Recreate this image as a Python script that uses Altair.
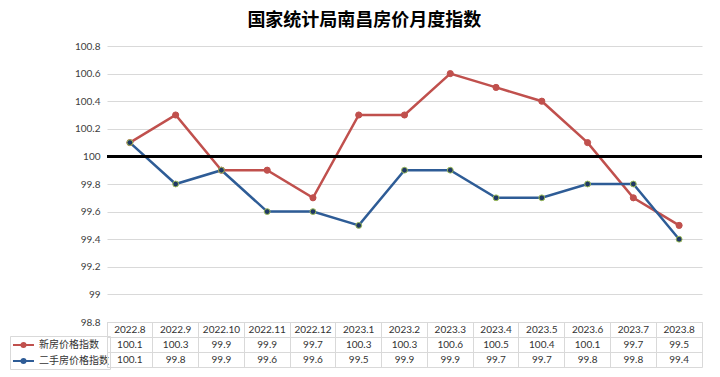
import altair as alt
import pandas as pd

# ---------------- data ----------------
months = ["2022.8", "2022.9", "2022.10", "2022.11", "2022.12", "2023.1", "2023.2",
          "2023.3", "2023.4", "2023.5", "2023.6", "2023.7", "2023.8"]
new_home = [100.1, 100.3, 99.9, 99.9, 99.7, 100.3, 100.3, 100.6, 100.5, 100.4, 100.1, 99.7, 99.5]
second_hand = [100.1, 99.8, 99.9, 99.6, 99.6, 99.5, 99.9, 99.9, 99.7, 99.7, 99.8, 99.8, 99.4]
series_names = ["新房价格指数", "二手房价格指数"]
y_ticks = [98.8, 99.0, 99.2, 99.4, 99.6, 99.8, 100.0, 100.2, 100.4, 100.6, 100.8]
baseline = 100
title_text = "国家统计局南昌房价月度指数"

RED = "#c0504d"
BLUE = "#2e5c96"
NAVY = "#1f3864"
GREEN = "#9bbb59"
GRID = "#d9d9d9"
CJK = "Noto Sans CJK SC"
NUM = "Lato"

rows = []
for s, vals in zip(series_names, [new_home, second_hand]):
    for i, (m, v) in enumerate(zip(months, vals)):
        rows.append({"month": m, "series": s, "value": v, "idx": i})
df = pd.DataFrame(rows)

row_keys = ["header", series_names[0], series_names[1]]
trows = []
for m in months:
    trows.append({"month": m, "row": "header", "text": m})
for s, vals in zip(series_names, [new_home, second_hand]):
    for m, v in zip(months, vals):
        trows.append({"month": m, "row": s, "text": f"{v:g}"})
tdf = pd.DataFrame(trows)

# ---------------- top chart ----------------
x_pt = alt.X("month:N", sort=months,
             scale=alt.Scale(type="point", domain=months, padding=0.5), axis=None)
y_scale = alt.Scale(domain=[y_ticks[0], y_ticks[-1]], nice=False, zero=False)
y_axis = alt.Axis(values=y_ticks, labelExpr="format(datum.value, '~g')",
                  grid=True, gridColor=GRID, domain=False, ticks=False,
                  labelPadding=7, title=None, labelFont=NUM, labelFontSize=10,
                  labelColor="#404040")
y_val = alt.Y("value:Q", scale=y_scale, axis=y_axis)

base = alt.Chart(df)

rule = alt.Chart(df).mark_rule(color="black", strokeWidth=2.5).encode(
    y=alt.YDatum(baseline, type="quantitative", scale=y_scale, axis=y_axis))

path = "M-0.86,0L2.14,0M0.35,0A0.29,0.29 0 1,0 0.93,0A0.29,0.29 0 1,0 0.35,0"
lines = base.mark_line(strokeWidth=2.5).encode(
    x=x_pt, y=y_val, order=alt.Order("idx:Q"),
    stroke=alt.Stroke("series:N", sort=series_names,
                      scale=alt.Scale(domain=series_names, range=[RED, BLUE]),
                      legend=alt.Legend(orient="none", legendX=-97, legendY=290, title=None,
                                        symbolType=path, symbolSize=196, symbolStrokeWidth=2,
                                        labelFont=CJK, labelFontSize=10, labelColor="#333333",
                                        labelOffset=12, rowPadding=1, padding=1,
                                        strokeColor=GRID, direction="vertical")))

pts_new = base.transform_filter(alt.datum.series == series_names[0]).mark_circle(
    fill=RED, stroke=RED, strokeWidth=1, size=38, opacity=1).encode(x=x_pt, y=y_val)
pts_sec = base.transform_filter(alt.datum.series == series_names[1]).mark_circle(
    fill=NAVY, stroke=GREEN, strokeWidth=1, size=34, opacity=1).encode(x=x_pt, y=y_val)

top = alt.layer(lines, rule, pts_new, pts_sec).properties(width=595, height=276)

# ---------------- table ----------------
tab_axis = alt.Axis(grid=True, bandPosition=0, labels=False, ticks=False, domain=False,
                    title=None, gridColor=GRID)
table = alt.Chart(tdf).mark_text(font=NUM, fontSize=10, color="#333333").encode(
    x=alt.X("month:N", sort=months,
            scale=alt.Scale(type="band", domain=months, paddingInner=0, paddingOuter=0),
            axis=tab_axis),
    y=alt.Y("row:N", sort=row_keys,
            scale=alt.Scale(type="band", domain=row_keys, paddingInner=0, paddingOuter=0),
            axis=tab_axis),
    text="text:N",
).properties(width=595, height=45,
             view=alt.ViewBackground(stroke=GRID, strokeWidth=1))

chart = alt.vconcat(top, table, spacing=0, bounds="flush").resolve_scale(
    stroke="independent").resolve_legend(stroke="independent").properties(
    title=alt.TitleParams(title_text, font=CJK, fontSize=18, fontWeight="bold",
                          color="#000000", anchor="middle", offset=11, dx=8),
    padding={"left": 9, "top": 12, "right": 10, "bottom": 4},
    background="white",
).configure_view(strokeWidth=0)

chart.save("out.html", embed_options={"renderer": "svg", "actions": False})
